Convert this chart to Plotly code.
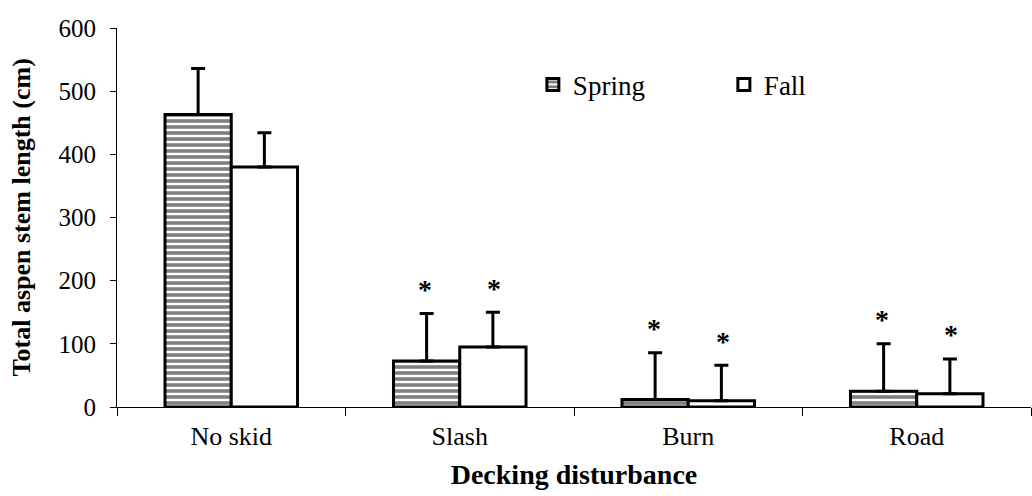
import plotly.graph_objects as go

# Mean total aspen stem length (cm) by decking disturbance and season
disturbance = ["No skid", "Slash", "Burn", "Road"]
spring_mean = [463, 73, 12, 25]
spring_err = [73, 75, 74, 75]
fall_mean = [380, 95, 10, 21]
fall_err = [54, 55, 56, 55]
spring_sig = ["", "*", "*", "*"]
fall_sig = ["", "*", "*", "*"]
y_ticks = [0, 100, 200, 300, 400, 500, 600]

SERIF = "Liberation Serif"
INK = "black"

fig = go.Figure()

fig.add_trace(go.Bar(
    name="Spring",
    x=disturbance,
    y=spring_mean,
    marker=dict(
        color="white",
        line=dict(color=INK, width=3),
        pattern=dict(shape="-", fgcolor=INK, bgcolor="white", size=6, solidity=0.6),
    ),
    error_y=dict(type="data", array=spring_err, arrayminus=[0] * len(spring_err),
                 symmetric=False, color=INK, thickness=3, width=7),
))

fig.add_trace(go.Bar(
    name="Fall",
    x=disturbance,
    y=fall_mean,
    marker=dict(color="white", line=dict(color=INK, width=3)),
    error_y=dict(type="data", array=fall_err, arrayminus=[0] * len(fall_err),
                 symmetric=False, color=INK, thickness=3, width=7),
))

# significance asterisks above each whisker
for i, cat in enumerate(disturbance):
    for sig, mean, err, shift in ((spring_sig[i], spring_mean[i], spring_err[i], -0.15),
                                  (fall_sig[i], fall_mean[i], fall_err[i], 0.15)):
        if sig:
            fig.add_annotation(
                x=i + shift, y=mean + err, xref="x", yref="y",
                text="<b>" + sig + "</b>", showarrow=False, yanchor="middle", yshift=24,
                font=dict(family=SERIF, size=28, color=INK),
            )

# vertical axis title, set close to the left edge
fig.add_annotation(
    x=-0.104, y=0.5, xref="paper", yref="paper",
    text="<b>Total aspen stem length (cm)</b>", textangle=-90, showarrow=False,
    xanchor="center", yanchor="middle",
    font=dict(family=SERIF, size=26, color=INK),
)

fig.update_layout(
    width=1032, height=496,
    margin=dict(l=117, r=1, t=28, b=89),
    paper_bgcolor="white", plot_bgcolor="white",
    barmode="group", bargap=0.42, bargroupgap=0,
    font=dict(family=SERIF, color=INK),
    legend=dict(
        orientation="h", x=0.455, y=0.85, xanchor="left", yanchor="middle",
        font=dict(family=SERIF, size=27, color=INK),
        entrywidth=146, bgcolor="rgba(0,0,0,0)",
    ),
)

fig.update_xaxes(
    showline=True, linecolor=INK, linewidth=1,
    ticks="outside", tickson="boundaries", ticklen=8, tickcolor=INK, tickwidth=1,
    tickfont=dict(family=SERIF, size=26, color=INK), ticklabelstandoff=6,
    showgrid=False, zeroline=False,
    title=dict(text="<b>Decking disturbance</b>", font=dict(family=SERIF, size=28, color=INK),
               standoff=14),
)

fig.update_yaxes(
    range=[0, 600], tickvals=y_ticks,
    showline=True, linecolor=INK, linewidth=1,
    ticks="outside", ticklen=6, tickcolor=INK, tickwidth=1,
    tickfont=dict(family=SERIF, size=25, color=INK), ticklabelstandoff=9,
    showgrid=False, zeroline=False,
)

fig.write_html("out.html")
